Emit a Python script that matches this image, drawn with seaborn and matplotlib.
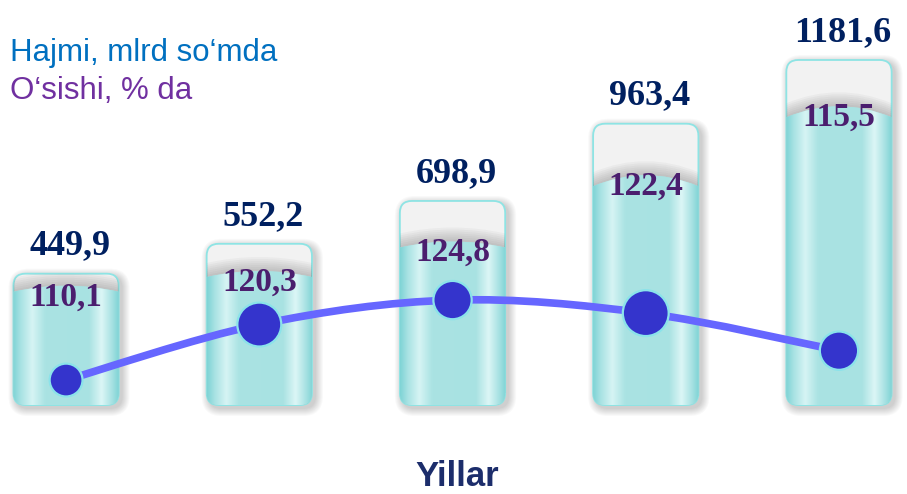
import numpy as np
import pandas as pd
import matplotlib
matplotlib.use("Agg")
import matplotlib.pyplot as plt
import seaborn as sns
from matplotlib.patches import FancyBboxPatch, PathPatch
from matplotlib.path import Path
from matplotlib.transforms import IdentityTransform
from matplotlib.colors import LinearSegmentedColormap

# data
periods = [1, 2, 3, 4, 5]
volume = [449.9, 552.2, 698.9, 963.4, 1181.6]
growth = [110.1, 120.3, 124.8, 122.4, 115.5]
volume_labels = ["449,9", "552,2", "698,9", "963,4", "1181,6"]
growth_labels = ["110,1", "120,3", "124,8", "122,4", "115,5"]

df = pd.DataFrame({"period": periods, "volume": volume, "growth": growth})
# level of the previous year = volume / growth
df["base"] = df["volume"] / df["growth"] * 100

dot_sizes = [560, 1000, 760, 1090, 760]

sns.set_theme(style="white")
plt.rcParams["font.family"] = ["Liberation Sans", "DejaVu Sans"]

fig = plt.figure(figsize=(9.07, 4.94), dpi=100)
ax = fig.add_axes([0, 0.18, 1, 0.82])
sns.barplot(data=df, x="period", y="volume", ax=ax, width=0.545,
            color="#f2f2f2", saturation=1)
ax.set_xlim(-0.342, 4.352)
ax.set_ylim(0, 1387)
ax.axis("off")

ax2 = ax.twinx()
ax2.set_ylim(105.5, 179.95)
ax2.axis("off")

ident = IdentityTransform()
R = 12
glass = LinearSegmentedColormap.from_list("glass", [
    (0.0, "#7fd4d6"), (0.07, "#a8e2e3"), (0.18, "#d6f4f4"), (0.3, "#aae3e3"),
    (0.72, "#a8e2e2"), (0.84, "#dcf6f6"), (0.94, "#a6e1e2"), (1.0, "#80d4d6")])
grad = glass(np.linspace(0, 1, 128))[None, :, :]


def fill_path(x0, x1, y0, ytop, hump, r):
    xc = (x0 + x1) / 2
    verts = [(x0, ytop), (x0, y0 + r), (x0, y0), (x0 + r, y0), (x1 - r, y0),
             (x1, y0), (x1, y0 + r), (x1, ytop), (xc, ytop + 2 * hump),
             (x0, ytop), (x0, ytop)]
    codes = [Path.MOVETO, Path.LINETO, Path.CURVE3, Path.CURVE3, Path.LINETO,
             Path.CURVE3, Path.CURVE3, Path.LINETO, Path.CURVE3, Path.CURVE3,
             Path.CLOSEPOLY]
    return Path(verts, codes)


bars = list(ax.patches)[:len(periods)]
for i, p in enumerate(bars):
    p.set_visible(False)
    (x0, y0), (x1, y1) = ax.transData.transform(
        [(p.get_x(), 0), (p.get_x() + p.get_width(), p.get_height())])
    w, h = x1 - x0, y1 - y0
    yb = ax.transData.transform((0, df["base"][i]))[1]

    # soft drop shadow
    for k in range(1, 9):
        sh = FancyBboxPatch((x0 - k + 3, y0 - k - 3), w + 2 * k, h + 2 * k,
                            boxstyle=f"round,pad=0,rounding_size={R + k}",
                            fc="black", ec="none", alpha=0.022,
                            transform=ident, zorder=1, clip_on=False)
        ax.add_patch(sh)

    outer = FancyBboxPatch((x0, y0), w, h,
                           boxstyle=f"round,pad=0,rounding_size={R}",
                           fc="#f2f2f2", ec="#8ee4e4", lw=1.3,
                           transform=ident, zorder=2, clip_on=False)
    ax.add_patch(outer)

    hump = 6 if i < 3 else 11
    ytop = yb - hump
    # shadow above the liquid level
    for k in range(2, 16, 2):
        sp = PathPatch(fill_path(x0, x1, y0, ytop + k, hump, R),
                       fc="#6e6e6e", ec="none", alpha=0.06,
                       transform=ident, zorder=3)
        ax.add_patch(sp)
        sp.set_clip_path(outer)

    liquid = PathPatch(fill_path(x0, x1, y0, ytop, hump, R), fc="#a9e2e2",
                       ec="none", transform=ident, zorder=4)
    ax.add_patch(liquid)
    xd0, xd1 = p.get_x(), p.get_x() + p.get_width()
    im = ax.imshow(grad, extent=(xd0, xd1, 0, df["base"][i] * 1.05),
                   aspect="auto", interpolation="bicubic", zorder=5)
    im.set_clip_path(liquid)

    ax.annotate(volume_labels[i], (i, volume[i]), xytext=(3, 8),
                textcoords="offset points", ha="center", va="bottom",
                fontsize=26, fontweight="bold", family="Liberation Serif",
                color="#002060", zorder=8)
    ax.annotate(growth_labels[i], (i, df["base"][i]), xytext=(0, -8),
                textcoords="offset points", ha="center", va="center",
                fontsize=24, fontweight="bold", family="Liberation Serif",
                color="#4b1e6e", zorder=8)

ax.set_xlim(-0.342, 4.352)
ax.set_ylim(0, 1387)

# smooth growth line (Catmull-Rom through the points)
xs = np.arange(len(periods))
pts = ax2.transData.transform(np.column_stack([xs, growth]))
ext = np.vstack([pts[0], pts, pts[-1]])
verts = [tuple(pts[0])]
codes = [Path.MOVETO]
for j in range(len(pts) - 1):
    p0, p1, p2, p3 = ext[j], ext[j + 1], ext[j + 2], ext[j + 3]
    verts += [tuple(p1 + (p2 - p0) / 6), tuple(p2 - (p3 - p1) / 6), tuple(p2)]
    codes += [Path.CURVE4] * 3
ax2.add_patch(PathPatch(Path(verts, codes), fill=False, ec="#6666ff", lw=5.5,
                        capstyle="round", transform=ident, zorder=6))
ax2.scatter(xs, growth, s=dot_sizes, c="#3434cc", edgecolors="#8be3ea",
            linewidths=1.6, zorder=7)

fig.text(0.011, 1 - 53 / 494, "Hajmi, mlrd so\u2018mda", color="#0070c0",
         fontsize=22.5, va="center", ha="left")
fig.text(0.011, 1 - 91 / 494, "O\u2018sishi, % da", color="#7030a0",
         fontsize=22.5, va="center", ha="left")
fig.text(0.504, 1 - 476 / 494, "Yillar", color="#1c2d6b", fontsize=25,
         fontweight="bold", ha="center", va="center")

fig.savefig("out.png", dpi=100, facecolor="white")
